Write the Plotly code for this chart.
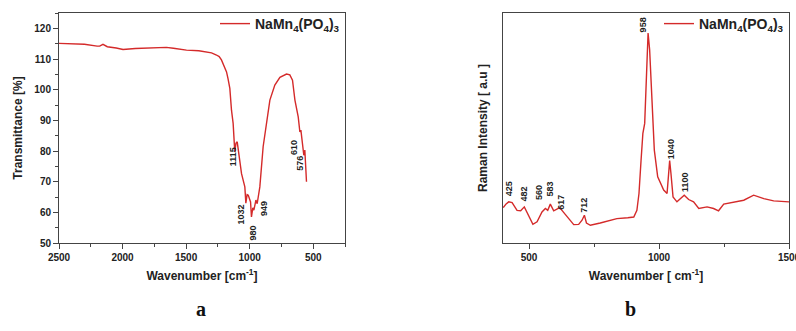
import plotly.graph_objects as go

# ---------------- data ----------------
ir_wavenumber = [2500, 2400, 2300, 2200, 2180, 2154, 2120, 2050, 1996, 1900, 1800, 1700, 1655, 1600,
                 1497, 1400, 1340, 1300, 1261, 1240, 1222, 1200, 1182, 1170, 1156, 1143, 1130, 1117,
                 1108, 1098, 1083, 1064, 1038, 1030, 1020, 1011, 993, 986, 975, 967, 958, 951, 941,
                 920, 894, 868, 841, 802, 762, 710, 684, 663, 644, 618, 605, 597, 584, 574, 566, 553]
ir_transmittance = [115.1, 114.9, 114.8, 114.2, 114.2, 114.8, 114.0, 113.6, 113.1, 113.4, 113.6, 113.6, 113.8, 113.5,
                    112.9, 112.7, 112.4, 112.0, 111.3, 110.8, 109.7, 107.8, 105.8, 103.5, 100.4, 93.3, 89.0, 79.7,
                    82.5, 83.0, 78.6, 72.6, 68.3, 63.0, 65.8, 65.6, 63.4, 58.5, 61.5, 60.7, 62.5, 64.0, 62.8,
                    68.3, 81.4, 89.0, 96.6, 101.5, 104.0, 105.1, 104.8, 103.1, 96.6, 91.1, 86.2, 86.8, 81.4, 78.6, 80.3, 70.0]

raman_wavenumber = [401, 412, 422, 435, 454, 468, 482, 499, 515, 531, 550, 563, 572, 582, 595, 618, 640, 653,
                    672, 691, 704, 713, 721, 736, 774, 838, 880, 903, 915, 923, 931, 938, 945, 951, 958, 964,
                    973, 982, 995, 1018, 1031, 1037, 1041, 1046, 1054, 1069, 1082, 1097, 1114, 1133, 1153,
                    1185, 1210, 1229, 1249, 1287, 1326, 1364, 1403, 1441, 1500]
raman_intensity = [15.4, 17.0, 17.9, 17.6, 14.2, 14.0, 15.7, 12.1, 8.1, 9.2, 13.5, 15.0, 14.2, 16.9, 14.0, 15.4, 12.1, 10.6,
                   8.0, 8.1, 9.9, 12.1, 8.7, 7.7, 8.7, 10.6, 11.0, 11.3, 14.2, 21.5, 36.0, 47.7, 52.0, 69.5, 91.3, 84.0,
                   62.2, 40.4, 28.8, 23.0, 21.5, 31.7, 35.8, 30.2, 20.0, 17.9, 19.3, 20.8, 18.9, 17.9, 15.0,
                   15.7, 15.0, 14.0, 16.9, 17.9, 18.6, 20.8, 19.3, 18.3, 17.9]

ir_peak_labels = ["1115", "1032", "980", "949", "610", "576"]
ir_label_x = [1135, 1064, 977, 888, 652, 605]
ir_label_y = [78.1, 59.1, 53.3, 61.4, 81.3, 76.1]

raman_peak_labels = ["425", "482", "560", "583", "617", "712", "958", "1040", "1100"]
raman_label_x = [426, 482, 541, 582, 623, 713, 938, 1044, 1101]
raman_label_y = [23.7, 21.2, 22.0, 23.4, 17.9, 16.4, 95.0, 41.0, 26.6]

ir_ticks = [2500, 2000, 1500, 1000, 500]
ir_yticks = [50, 60, 70, 80, 90, 100, 110, 120]
raman_ticks = [500, 1000, 1500]

series_name = "<b>NaMn<sub>4</sub>(PO<sub>4</sub>)<sub>3</sub></b>"
panel_labels = ["a", "b"]

RED = "#d42a2a"
AXC = "#444444"
FONT = "Liberation Sans, Arial, sans-serif"

fig = go.Figure()
fig.add_trace(go.Scatter(x=ir_wavenumber, y=ir_transmittance, mode="lines", name=series_name,
                         line=dict(color=RED, width=1.4), xaxis="x", yaxis="y", legend="legend",
                         showlegend=True))
fig.add_trace(go.Scatter(x=raman_wavenumber, y=raman_intensity, mode="lines", name=series_name,
                         line=dict(color=RED, width=1.4), xaxis="x2", yaxis="y2", legend="legend2",
                         showlegend=True))

ydom = [1 - 243 / 331, 1 - 13 / 331]
common_ax = dict(showline=True, linecolor=AXC, linewidth=1, mirror=True, showgrid=False, zeroline=False,
                 ticks="outside", ticklen=5, tickcolor=AXC, ticklabeloverflow="allow", automargin=False,
                 tickfont=dict(family=FONT, size=10, color="#222"))
tfont = dict(family=FONT, size=12, color="#222")

fig.update_layout(
    width=796, height=331, margin=dict(l=0, r=0, t=0, b=0), showlegend=True,
    paper_bgcolor="white", plot_bgcolor="white",
    xaxis=dict(domain=[59 / 796, 345 / 796], range=[2500, 250], tickvals=ir_ticks,
               ticktext=["<b>%d</b>" % v for v in ir_ticks],
               minor=dict(dtick=250, ticks="outside", ticklen=3, tickcolor=AXC),
               title=dict(text="<b>Wavenumber [cm<sup>-1</sup>]</b>", font=tfont, standoff=9),
               anchor="y", **common_ax),
    yaxis=dict(domain=ydom, range=[50, 125], tickvals=ir_yticks,
               ticktext=["<b>%d</b>" % v for v in ir_yticks],
               minor=dict(dtick=5, ticks="outside", ticklen=3, tickcolor=AXC),
               title=dict(text="<b>Transmittance [%]</b>", font=tfont, standoff=9),
               anchor="x", **common_ax),
    xaxis2=dict(domain=[503 / 796, 789 / 796], range=[400, 1500], tickvals=raman_ticks,
                ticktext=["<b>%d</b>" % v for v in raman_ticks],
                minor=dict(tickvals=[750, 1250], ticks="outside", ticklen=3, tickcolor=AXC),
                title=dict(text="<b>Wavenumber [ cm<sup>-1</sup>]</b>", font=tfont, standoff=9),
                anchor="y2", **common_ax),
    yaxis2=dict(domain=ydom, range=[0, 100], showticklabels=False, automargin=False,
                showline=True, linecolor=AXC, linewidth=1, mirror=True, showgrid=False, zeroline=False,
                ticks="",
                title=dict(text="<b>Raman Intensity [ a.u ]</b>", font=tfont, standoff=11),
                anchor="x2"),
    legend=dict(x=345 / 796, xanchor="right", y=1 - 8 / 331, yanchor="top", bgcolor="rgba(0,0,0,0)",
                font=dict(family=FONT, size=14, color="#222")),
    legend2=dict(x=789 / 796, xanchor="right", y=1 - 8 / 331, yanchor="top", bgcolor="rgba(0,0,0,0)",
                 font=dict(family=FONT, size=14, color="#222")),
)

anns = []
for t, x, y in zip(ir_peak_labels, ir_label_x, ir_label_y):
    anns.append(dict(text="<b>%s</b>" % t, x=x, y=y, xref="x", yref="y", showarrow=False, textangle=-90,
                     font=dict(family=FONT, size=9, color="#222")))
for t, x, y in zip(raman_peak_labels, raman_label_x, raman_label_y):
    anns.append(dict(text="<b>%s</b>" % t, x=x, y=y, xref="x2", yref="y2", showarrow=False, textangle=-90,
                     font=dict(family=FONT, size=9, color="#222")))
for t, px in zip(panel_labels, [194, 638]):
    anns.append(dict(text="<b>%s</b>" % t, x=px / 796, y=1 - 322 / 331, xref="paper", yref="paper",
                     showarrow=False, font=dict(family="Liberation Serif, Times New Roman, serif", size=20, color="#111")))
fig.update_layout(annotations=anns)

fig.write_html("out.html")
